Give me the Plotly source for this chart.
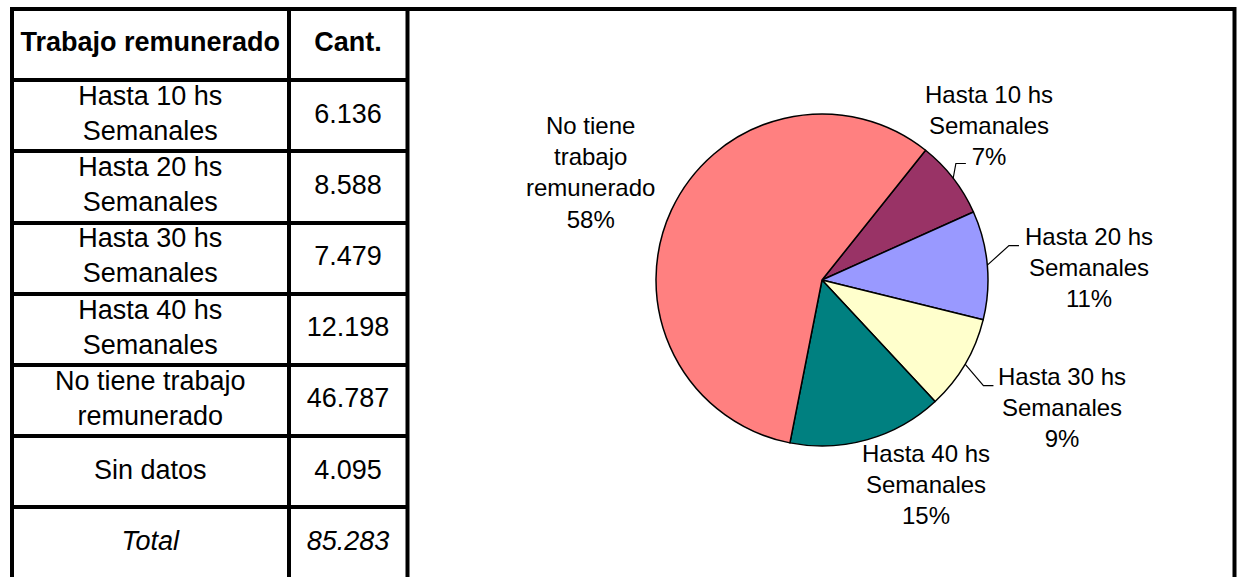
import numpy as np
import plotly.graph_objects as go

# ---- data ----
ROW_LABELS = [
    "Hasta 10 hs<br>Semanales",
    "Hasta 20 hs<br>Semanales",
    "Hasta 30 hs<br>Semanales",
    "Hasta 40 hs<br>Semanales",
    "No tiene trabajo<br>remunerado",
    "Sin datos",
]
CANT = [6136, 8588, 7479, 12198, 46787, 4095]
TOTAL = 85283

# pie leaves "Sin datos" out
PIE_LABELS = [
    "Hasta 10 hs<br>Semanales",
    "Hasta 20 hs<br>Semanales",
    "Hasta 30 hs<br>Semanales",
    "Hasta 40 hs<br>Semanales",
    "No tiene<br>trabajo<br>remunerado",
]
PIE_VALUES = [6136, 8588, 7479, 12198, 46787]
PIE_PCT = ["7%", "11%", "9%", "15%", "58%"]
PIE_COLORS = ["#993366", "#9999FF", "#FFFFCC", "#008080", "#FF8080"]

# ---- layout (window pixels; body margin removed in the page) ----
W, H = 1238, 577
FONT = "Liberation Sans, Arial, sans-serif"
LEFT, TOP, RIGHT = 12, 9, 1234.5
COL_EDGES = [12, 288.5, 407.5]
ROW_PX = 71.2
PIE_CX, PIE_CY, PIE_R = 822, 280, 166
ROTATION = 38.6
# label placement: radius factor and angular nudge per slice
LBL_RAD = [1.37, 1.61, 1.64, 1.38, 1.54]
LBL_DANG = [-5, 2.5, -2.5, -11, 0]
# leader line end (relative to label centre), None = no leader
LEADER_END = [(-23, 38), (-70, -22), (-69, -22), None, None]
ELBOW = 10


def px(x):
    return x / W


def py(y):
    return 1 - y / H


def fmt(v):
    return f"{v:,}".replace(",", ".")


# table cells
col_mid = [(COL_EDGES[0] + COL_EDGES[1]) / 2, (COL_EDGES[1] + COL_EDGES[2]) / 2]
xs, ys, txt = [], [], []
rows = [("<b>Trabajo remunerado</b>", "<b>Cant.</b>")]
rows += [(lab, fmt(v)) for lab, v in zip(ROW_LABELS, CANT)]
rows += [("<i>Total</i>", f"<i>{fmt(TOTAL)}</i>")]
for i, (a, b) in enumerate(rows):
    xs += col_mid
    ys += [i + 0.5, i + 0.5]
    txt += [a, b]

fig = go.Figure()
fig.add_trace(go.Scatter(
    x=xs, y=ys, text=txt, mode="text", textposition="middle center",
    textfont=dict(family=FONT, size=27, color="black"),
    hoverinfo="skip", cliponaxis=False, showlegend=False,
))

fig.add_trace(go.Pie(
    values=PIE_VALUES, labels=[l.replace("<br>", " ") for l in PIE_LABELS],
    marker=dict(colors=PIE_COLORS, line=dict(color="black", width=1.5)),
    sort=False, direction="clockwise", rotation=ROTATION,
    textinfo="none", showlegend=False,
    domain=dict(x=[px(PIE_CX - PIE_R), px(PIE_CX + PIE_R)],
                y=[py(PIE_CY + PIE_R), py(PIE_CY - PIE_R)]),
))

shapes = [
    dict(type="rect", xref="paper", yref="paper",
         x0=px(LEFT), x1=px(RIGHT), y0=-0.1, y1=py(TOP),
         line=dict(color="black", width=4)),
    dict(type="line", xref="paper", yref="paper",
         x0=px(COL_EDGES[-1]), x1=px(COL_EDGES[-1]), y0=-0.1, y1=py(TOP),
         line=dict(color="black", width=4)),
]

# pie labels placed from slice mid-angles
vals = np.array(PIE_VALUES, dtype=float)
frac_mid = (np.cumsum(vals) - vals / 2) / vals.sum()
mid_deg = ROTATION + 360 * frac_mid
annots = []
for lab, pct, ang, k, dang, lead in zip(PIE_LABELS, PIE_PCT, mid_deg, LBL_RAD, LBL_DANG, LEADER_END):
    a = np.radians(ang + dang)
    lx = PIE_CX + k * PIE_R * np.sin(a)
    ly = PIE_CY - k * PIE_R * np.cos(a)
    annots.append(dict(
        x=px(lx), y=py(ly), xref="paper", yref="paper",
        xanchor="center", yanchor="middle", text=f"{lab}<br>{pct}", showarrow=False,
        font=dict(family=FONT, size=24, color="black"),
    ))
    if lead:
        a0 = np.radians(ang)
        ex = PIE_CX + PIE_R * np.sin(a0)
        ey = PIE_CY - PIE_R * np.cos(a0)
        tx, ty = lx + lead[0], ly + lead[1]
        path = (f"M{px(ex)},{py(ey)} L{px(tx - ELBOW)},{py(ty)} L{px(tx)},{py(ty)}")
        shapes.append(dict(type="path", xref="paper", yref="paper", path=path,
                           line=dict(color="black", width=1.2)))

fig.update_layout(
    width=W, height=H, margin=dict(l=0, r=0, t=0, b=0),
    paper_bgcolor="white", plot_bgcolor="rgba(0,0,0,0)",
    showlegend=False, annotations=annots, shapes=shapes,
    font=dict(family=FONT, color="black"),
    xaxis=dict(domain=[px(COL_EDGES[0]), px(COL_EDGES[-1])],
               range=[COL_EDGES[0], COL_EDGES[-1]],
               tickvals=COL_EDGES, showgrid=True, gridcolor="black", gridwidth=4,
               showticklabels=False, zeroline=False, ticks="", fixedrange=True),
    yaxis=dict(domain=[0, py(TOP)],
               range=[(H - TOP) / ROW_PX, 0],
               tickvals=list(range(len(rows) + 1)), showgrid=True,
               gridcolor="black", gridwidth=4,
               showticklabels=False, zeroline=False, ticks="", fixedrange=True),
)

fig.write_html("out.html", config={"displayModeBar": False},
               post_script="document.body.style.margin='0';")
